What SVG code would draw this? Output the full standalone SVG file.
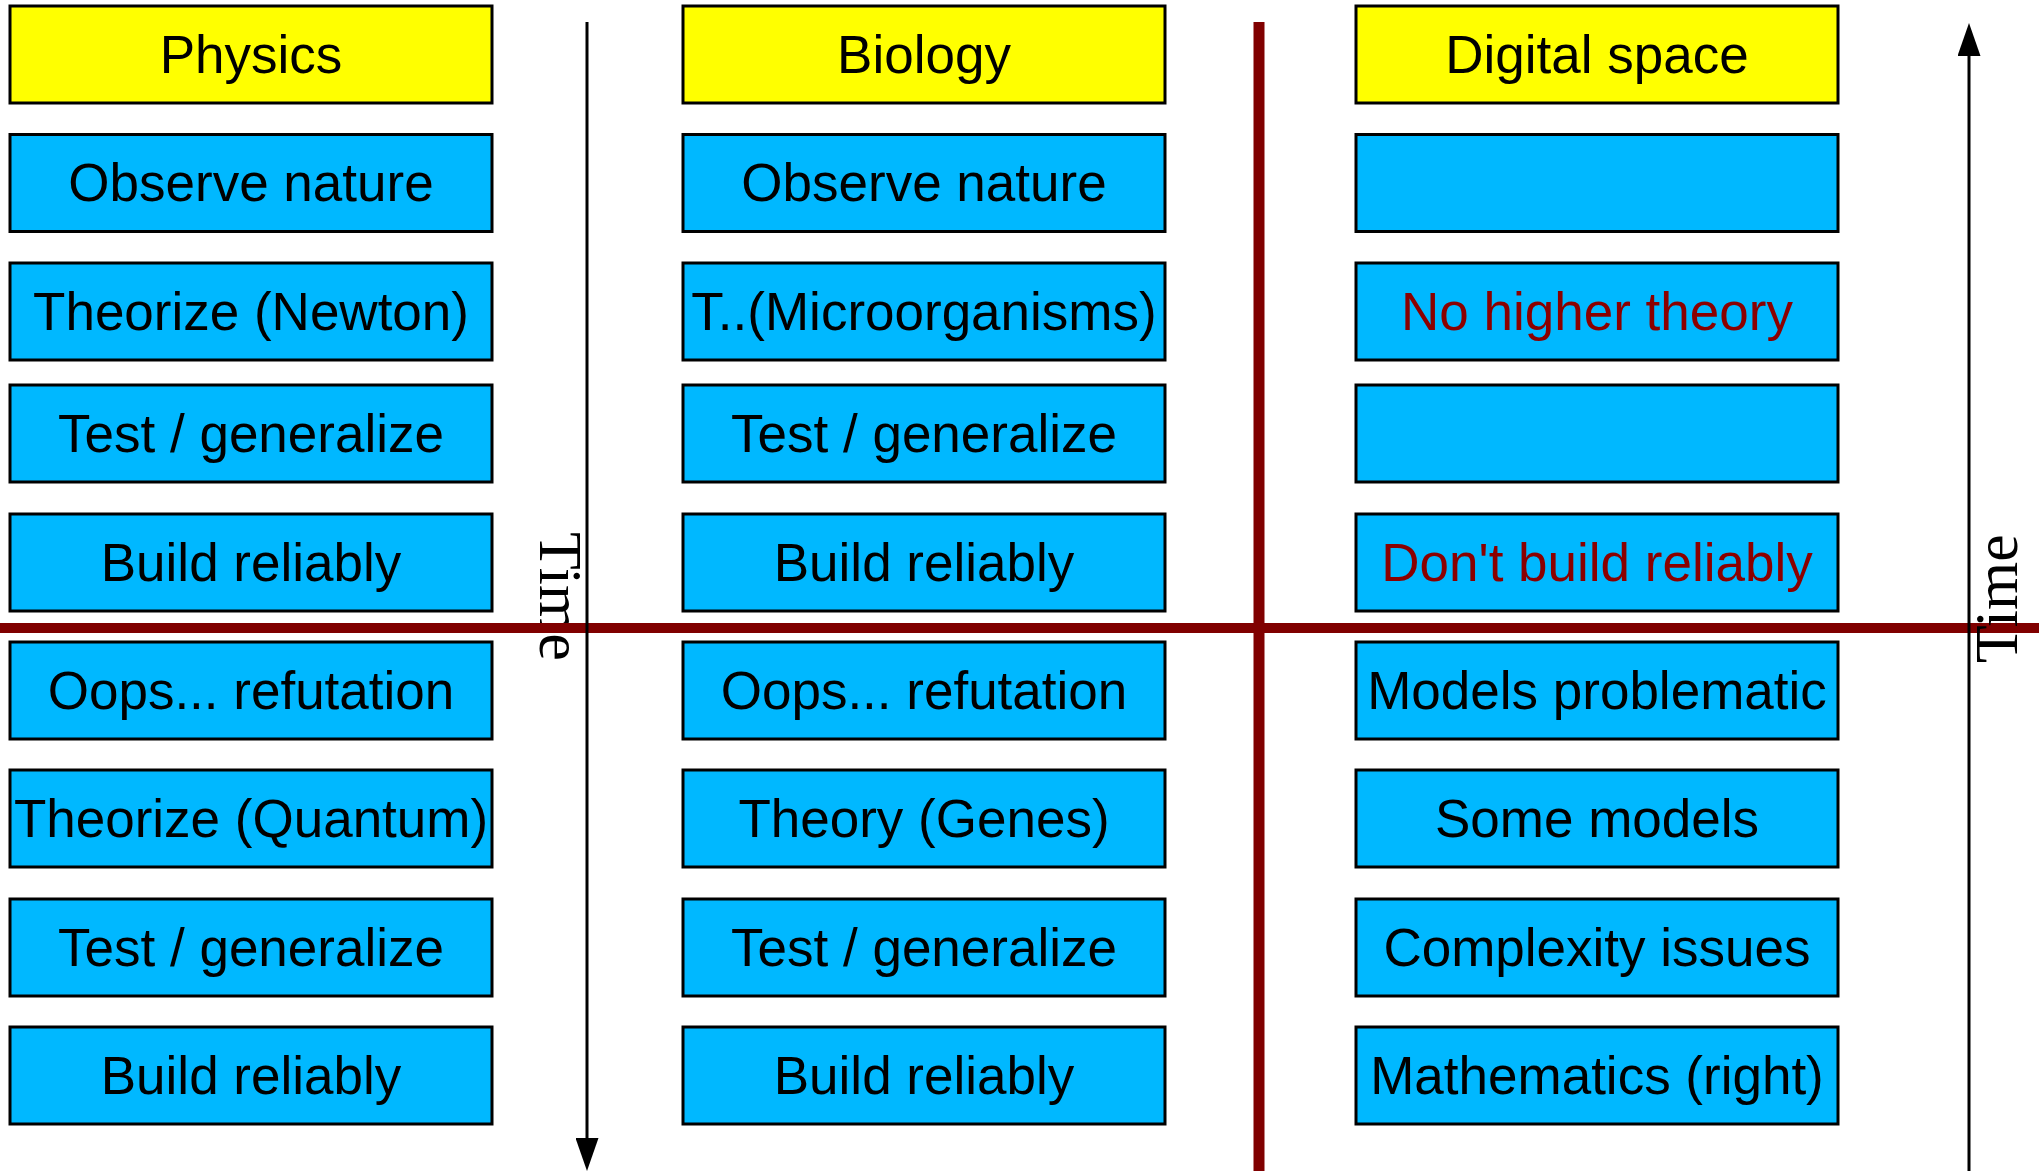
<svg xmlns="http://www.w3.org/2000/svg" width="2039" height="1171" viewBox="0 0 2039 1171">
<style>
.box{fill:#00b8ff;stroke:#000;stroke-width:3}
.head{fill:#ffff00;stroke:#000;stroke-width:3}
.t{font-family:"Liberation Sans",Arial,sans-serif;font-size:53px;fill:#000;text-anchor:middle}
.red{fill:#8b0000}
.time{font-family:"Liberation Serif","Times New Roman",serif;font-size:62px;fill:#000}
.div{stroke:#800000;fill:none}
.arr{stroke:#000;stroke-width:3;fill:none}
</style>
<defs>
<marker id="ah" markerUnits="userSpaceOnUse" markerWidth="33" markerHeight="23" refX="0" refY="11.5" orient="auto" viewBox="0 0 33 23">
<path d="M0,0 L33,11.5 L0,23 z" fill="#000"/>
</marker>
</defs>
<rect width="2039" height="1171" fill="#fff"/>
<text class="time" transform="translate(540,532) rotate(90)">Time</text>
<g id="dividers">
<line class="div" x1="0" y1="628" x2="2039" y2="628" stroke-width="10"/>
<line class="div" x1="1259" y1="22" x2="1259" y2="1171" stroke-width="11"/>
</g>
<g id="connectors">
<line class="arr" x1="587" y1="22" x2="587" y2="1138" marker-end="url(#ah)"/>
<line class="arr" x1="1969" y1="1171" x2="1969" y2="56" marker-end="url(#ah)"/>
</g>
<text class="time" transform="translate(2017,663) rotate(-90)">Time</text>
<g id="physics">
<g id="p0"><rect class="head" x="10" y="6" width="482" height="97"/><text class="t" x="251" y="73">Physics</text></g>
<g id="p1"><rect class="box" x="10" y="134.5" width="482" height="97"/><text class="t" x="251" y="201">Observe nature</text></g>
<g id="p2"><rect class="box" x="10" y="263" width="482" height="97"/><text class="t" x="251" y="330">Theorize (Newton)</text></g>
<g id="p3"><rect class="box" x="10" y="385" width="482" height="97"/><text class="t" x="251" y="452">Test / generalize</text></g>
<g id="p4"><rect class="box" x="10" y="514" width="482" height="97"/><text class="t" x="251" y="581">Build reliably</text></g>
<g id="p5"><rect class="box" x="10" y="642" width="482" height="97"/><text class="t" x="251" y="709">Oops... refutation</text></g>
<g id="p6"><rect class="box" x="10" y="770" width="482" height="97"/><text class="t" x="251" y="837">Theorize (Quantum)</text></g>
<g id="p7"><rect class="box" x="10" y="899" width="482" height="97"/><text class="t" x="251" y="966">Test / generalize</text></g>
<g id="p8"><rect class="box" x="10" y="1027" width="482" height="97"/><text class="t" x="251" y="1094">Build reliably</text></g>
</g>
<g id="biology">
<g id="b0"><rect class="head" x="683" y="6" width="482" height="97"/><text class="t" x="924" y="73">Biology</text></g>
<g id="b1"><rect class="box" x="683" y="134.5" width="482" height="97"/><text class="t" x="924" y="201">Observe nature</text></g>
<g id="b2"><rect class="box" x="683" y="263" width="482" height="97"/><text class="t" x="924" y="330">T..(Microorganisms)</text></g>
<g id="b3"><rect class="box" x="683" y="385" width="482" height="97"/><text class="t" x="924" y="452">Test / generalize</text></g>
<g id="b4"><rect class="box" x="683" y="514" width="482" height="97"/><text class="t" x="924" y="581">Build reliably</text></g>
<g id="b5"><rect class="box" x="683" y="642" width="482" height="97"/><text class="t" x="924" y="709">Oops... refutation</text></g>
<g id="b6"><rect class="box" x="683" y="770" width="482" height="97"/><text class="t" x="924" y="837">Theory (Genes)</text></g>
<g id="b7"><rect class="box" x="683" y="899" width="482" height="97"/><text class="t" x="924" y="966">Test / generalize</text></g>
<g id="b8"><rect class="box" x="683" y="1027" width="482" height="97"/><text class="t" x="924" y="1094">Build reliably</text></g>
</g>
<g id="digital">
<g id="d0"><rect class="head" x="1356" y="6" width="482" height="97"/><text class="t" x="1597" y="73">Digital space</text></g>
<g id="d1"><rect class="box" x="1356" y="134.5" width="482" height="97"/></g>
<g id="d2"><rect class="box" x="1356" y="263" width="482" height="97"/><text class="t red" x="1597" y="330">No higher theory</text></g>
<g id="d3"><rect class="box" x="1356" y="385" width="482" height="97"/></g>
<g id="d4"><rect class="box" x="1356" y="514" width="482" height="97"/><text class="t red" x="1597" y="581">Don't build reliably</text></g>
<g id="d5"><rect class="box" x="1356" y="642" width="482" height="97"/><text class="t" x="1597" y="709">Models problematic</text></g>
<g id="d6"><rect class="box" x="1356" y="770" width="482" height="97"/><text class="t" x="1597" y="837">Some models</text></g>
<g id="d7"><rect class="box" x="1356" y="899" width="482" height="97"/><text class="t" x="1597" y="966">Complexity issues</text></g>
<g id="d8"><rect class="box" x="1356" y="1027" width="482" height="97"/><text class="t" x="1597" y="1094">Mathematics (right)</text></g>
</g>
</svg>
